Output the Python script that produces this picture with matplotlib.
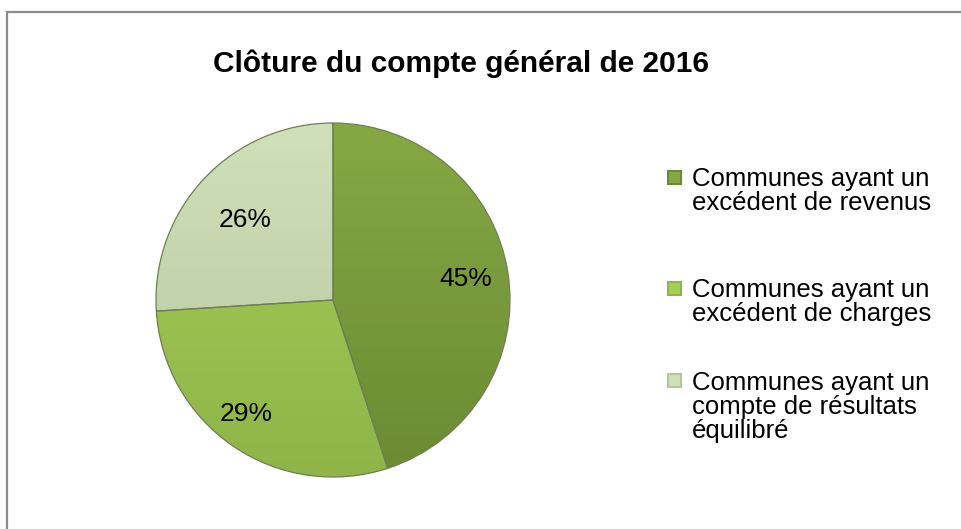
import matplotlib
matplotlib.use("Agg")
import matplotlib.pyplot as plt
import numpy as np
from matplotlib.colors import LinearSegmentedColormap
from matplotlib.patches import Rectangle

plt.rcParams['font.family'] = ['Liberation Sans', 'DejaVu Sans']

title = "Clôture du compte général de 2016"
labels = ["Communes ayant un\nexcédent de revenus",
          "Communes ayant un\nexcédent de charges",
          "Communes ayant un\ncompte de résultats\néquilibré"]
shares = [45, 29, 26]
# (light top, dark bottom) per slice
colors_top = ["#86a844", "#a6cf57", "#d0e0b8"]
colors_bot = ["#6b8a33", "#8fb449", "#b5c69e"]

W, H = 961, 529
fig = plt.figure(figsize=(W / 100, H / 100), dpi=100)

# outer frame (only top and left visible)
fig.patches.append(Rectangle((7 / W, -0.1), 1.2, 1 - 11.5 / H + 0.1,
                             transform=fig.transFigure, fill=False,
                             edgecolor="#8c8c8c", linewidth=1.6))

fig.text(461 / W, 1 - 64 / H, title, ha="center", va="center",
         fontsize=21.5, fontweight="bold")

cx, cy, r = 333, 300, 177
ax = fig.add_axes([(cx - r) / W, (H - cy - r) / H, 2 * r / W, 2 * r / H])
wedges, _ = ax.pie(shares, startangle=90, counterclock=False,
                   colors=colors_top,
                   wedgeprops=dict(edgecolor="#6f7f55", linewidth=0.9))
ax.set_xlim(-1, 1)
ax.set_ylim(-1, 1)
ax.set_aspect("equal")

# vertical gradient inside each wedge
grad = np.linspace(0, 1, 256).reshape(-1, 1)
for w, ct, cb in zip(wedges, colors_top, colors_bot):
    cmap = LinearSegmentedColormap.from_list("g", [ct, cb])
    im = ax.imshow(grad, extent=(-1, 1, -1, 1), origin="upper",
                   cmap=cmap, aspect="auto", zorder=w.get_zorder() - 0.1)
    im.set_clip_path(w)
    w.set_facecolor("none")
    w.set_zorder(3)

# percentage labels (distance from centre, slight angle shift per slice)
label_dist = [0.76, 0.81, 0.67]
label_shift = [0, -3, 1]
for w, s, d, da in zip(wedges, shares, label_dist, label_shift):
    ang = np.deg2rad((w.theta1 + w.theta2) / 2 + da)
    ax.text(d * np.cos(ang), d * np.sin(ang), f"{s}%", ha="center",
            va="center", fontsize=19, zorder=5)
ax.axis("off")

# legend drawn by hand: marker on first line of each entry
legend_y = [177, 288, 380]
line_h = 25
for lab, ct, cb, y in zip(labels, colors_top, colors_bot, legend_y):
    fig.patches.append(Rectangle(((674 - 6.5) / W, 1 - (y + 6.5) / H),
                                 13 / W, 13 / H, transform=fig.transFigure,
                                 facecolor=ct, edgecolor=cb, linewidth=1.5))
    n = lab.count("\n")
    # baseline of the last line
    fig.text(692 / W, 1 - (y + 8 + n * line_h) / H, lab, ha="left",
             va="baseline", fontsize=18.5, linespacing=1.0)

fig.savefig("out.png", dpi=100)
